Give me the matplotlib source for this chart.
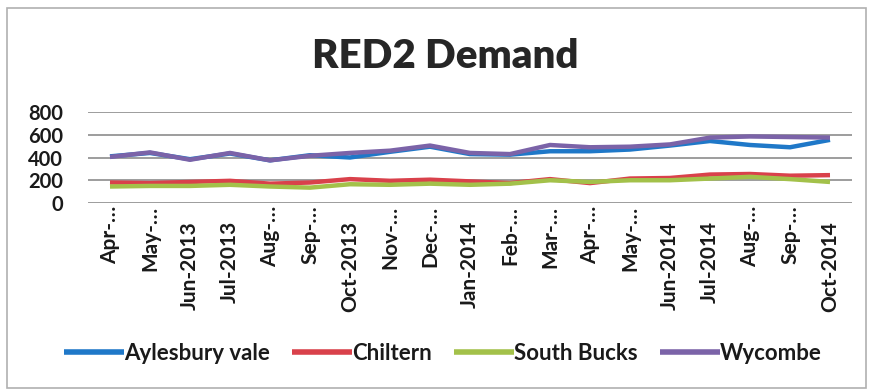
import matplotlib
matplotlib.use("Agg")
import matplotlib.pyplot as plt
from matplotlib.patches import Rectangle
from matplotlib.transforms import blended_transform_factory, offset_copy

months = ["Apr-…", "May-…", "Jun-2013", "Jul-2013", "Aug-…", "Sep-…", "Oct-2013",
          "Nov-…", "Dec-…", "Jan-2014", "Feb-…", "Mar-…", "Apr-…", "May-…",
          "Jun-2014", "Jul-2014", "Aug-…", "Sep-…", "Oct-2014"]

aylesbury = [410, 440, 385, 435, 375, 420, 400, 450, 495, 430, 425, 455, 455, 470, 505, 545, 510, 490, 555]
chiltern = [180, 175, 185, 195, 170, 180, 210, 195, 205, 190, 175, 210, 175, 215, 220, 250, 255, 240, 245]
south_bucks = [145, 150, 150, 160, 145, 135, 165, 160, 170, 160, 170, 200, 185, 200, 200, 215, 230, 210, 185]
wycombe = [405, 445, 380, 440, 375, 415, 440, 460, 505, 440, 430, 510, 490, 495, 515, 575, 585, 580, 575]

series = [("Aylesbury vale", aylesbury, "#1f78c8"),
          ("Chiltern", chiltern, "#d9414b"),
          ("South Bucks", south_bucks, "#a3c14a"),
          ("Wycombe", wycombe, "#7b63a8")]

plt.rcParams['font.family'] = ['Lato', 'DejaVu Sans']

W, H = 871, 392
fig = plt.figure(figsize=(W / 100, H / 100), dpi=100)
fig.patches.append(Rectangle((7 / W, 1 - 388 / H), 859 / W, 380 / H, transform=fig.transFigure,
                             fill=False, edgecolor="#b0b0b0", linewidth=1.2))

ax = fig.add_axes([88 / W, 1 - 203 / H, (852 - 88) / W, (203 - 112) / H])
x = list(range(len(months)))
for name, vals, col in series:
    ax.plot(x, vals, color=col, linewidth=3.2, label=name, solid_capstyle="butt")

ax.set_xlim(-0.55, len(months) - 0.45)
ax.set_ylim(0, 800)
ax.set_yticks([0, 200, 400, 600, 800])
ax.yaxis.grid(True, color="#8c8c8c", linewidth=1.2)
ax.set_axisbelow(True)
for s in ["top", "right", "left", "bottom"]:
    ax.spines[s].set_visible(False)
ax.tick_params(axis="y", length=0, pad=18, labelsize=14.5, colors="#1a1a1a")
for t in ax.get_yticklabels():
    t.set_fontweight("bold")

# category labels: shortened ones sit right under the axis, full ones a bit lower
ax.set_xticks([])
base = blended_transform_factory(ax.transData, ax.transAxes)
for i, lab in enumerate(months):
    drop = 2 if lab.endswith("…") else 13
    tr = offset_copy(base, fig=fig, x=0, y=-drop, units="points")
    ax.text(i, 0, lab, transform=tr, rotation=90, ha="center", va="top",
            fontsize=15, fontweight="bold", color="#1a1a1a")

fig.text(445 / W, 1 - 57 / H, "RED2 Demand", ha="center", va="center",
         fontsize=29, fontweight="heavy", color="#262626")

leg = fig.legend(loc="center", bbox_to_anchor=(443 / W, 1 - 353 / H), ncol=4, frameon=False,
                 prop={"size": 16, "weight": "bold"}, handlelength=2.7, handletextpad=0.0,
                 columnspacing=1.0, borderaxespad=0)
for line in leg.get_lines():
    line.set_linewidth(4)
for t in leg.get_texts():
    t.set_color("#1a1a1a")

fig.savefig("out.png", dpi=100)
